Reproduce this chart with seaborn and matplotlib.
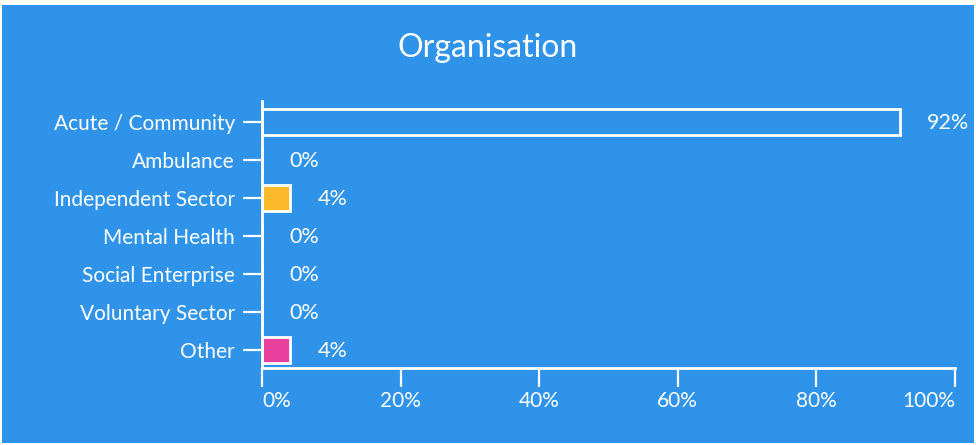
import matplotlib
matplotlib.use('Agg')
import matplotlib.pyplot as plt
import seaborn as sns
import pandas as pd
from matplotlib.patches import Rectangle
from matplotlib.ticker import PercentFormatter

categories = ['Acute / Community', 'Ambulance', 'Independent Sector', 'Mental Health',
              'Social Enterprise', 'Voluntary Sector', 'Other']
percentages = [92, 0, 4, 0, 0, 0, 4]
xticks = [0, 20, 40, 60, 80, 100]

bg_blue = '#2F94E9'
bar_colors = [bg_blue, bg_blue, '#FBB92B', bg_blue, bg_blue, bg_blue, '#E8409C']

df = pd.DataFrame({'Organisation': categories, 'Percent': percentages})

sns.set_theme(style='white')
plt.rcParams['font.family'] = ['Lato', 'DejaVu Sans']

fig = plt.figure(figsize=(9.76, 4.45), dpi=100, facecolor='white')
# blue card with a thin white margin
fig.patches.append(Rectangle((2 / 976, 2 / 445), 972 / 976, 438 / 445,
                             transform=fig.transFigure, facecolor=bg_blue,
                             edgecolor='none', zorder=-10))

ax = fig.add_axes([262 / 976, 1 - 368 / 445, 693 / 976, 267 / 445])
ax.set_facecolor('none')
ax.set_zorder(1)

sns.barplot(data=df, x='Percent', y='Organisation', hue='Organisation',
            palette=bar_colors, orient='h', width=0.68, edgecolor='white',
            linewidth=2, saturation=1, legend=False, ax=ax)

ax.set_xlim(0, 100)
ax.set_ylim(6.474, -0.553)
ax.set_xticks(xticks)
ax.xaxis.set_major_formatter(PercentFormatter(decimals=0))

for i, v in enumerate(percentages):
    ax.annotate(f'{v}%', xy=(v, i), xytext=(20, -1), textcoords='offset points',
                ha='left', va='center', color='white', fontsize=15.5)

ax.set_xlabel('')
ax.set_ylabel('')
for side in ['top', 'right']:
    ax.spines[side].set_visible(False)
for side in ['left', 'bottom']:
    ax.spines[side].set_color('white')
    ax.spines[side].set_linewidth(2)

ax.tick_params(axis='both', colors='white', labelcolor='white', labelsize=15,
               length=13.5, width=1.6, direction='out', bottom=True, left=True)
ax.tick_params(axis='y', pad=6)
ax.tick_params(axis='x', pad=3)
ax.grid(False)

xlabels = ax.get_xticklabels()
xlabels[0].set_horizontalalignment('left')
xlabels[-1].set_horizontalalignment('right')

fig.text(488 / 976, 1 - 48 / 445, 'Organisation', ha='center', va='center',
         color='white', fontsize=23)

fig.savefig('out.png', dpi=100, facecolor='white')
